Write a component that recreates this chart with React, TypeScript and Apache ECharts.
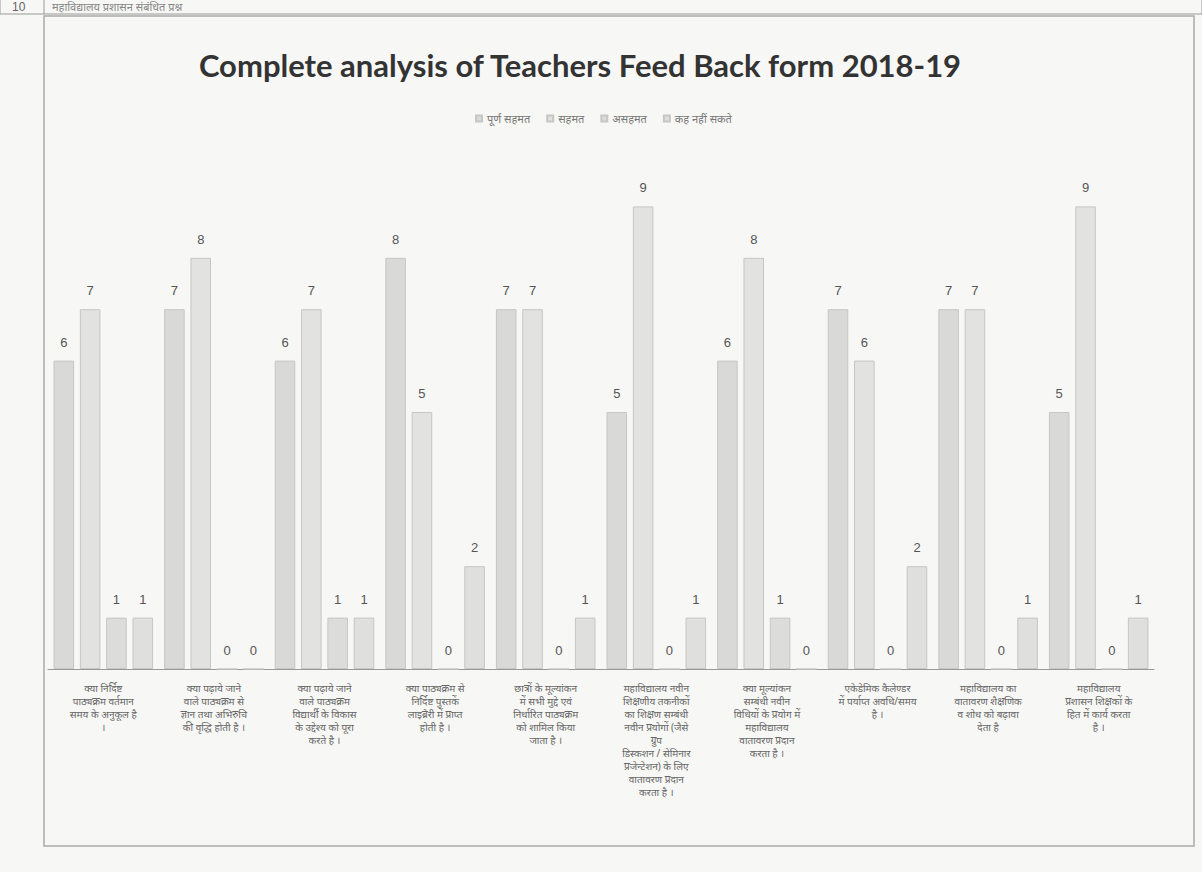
import React, { useEffect, useRef } from "react";
import * as echarts from "echarts";

const categories = [
  "क्या निर्दिष्ट\nपाठ्यक्रम वर्तमान\nसमय के अनुकूल है\n।",
  "क्या पढ़ाये जाने\nवाले पाठ्यक्रम से\nज्ञान तथा अभिरुचि\nकी वृद्धि होती है ।",
  "क्या पढ़ाये जाने\nवाले पाठ्यक्रम\nविद्यार्थी के विकास\nके उद्देश्य को पूरा\nकरते है ।",
  "क्या पाठ्यक्रम से\nनिर्दिष्ट पुस्तकें\nलाइब्रेरी में प्राप्त\nहोती है ।",
  "छात्रों के मूल्यांकन\nमें सभी मुद्दे एवं\nनिर्धारित पाठ्यक्रम\nको शामिल किया\nजाता है ।",
  "महाविद्यालय नवीन\nशिक्षणीय तकनीकों\nका शिक्षण सम्बंधी\nनवीन प्रयोगों (जैसे\nग्रुप\nडिस्कशन / सेमिनार\nप्रजेन्टेशन) के लिए\nवातावरण प्रदान\nकरता है ।",
  "क्या मूल्यांकन\nसम्बंधी नवीन\nविधियों के प्रयोग में\nमहाविद्यालय\nवातावरण प्रदान\nकरता है ।",
  "एकेडेमिक कैलेण्डर\nमें पर्याप्त अवधि/समय\nहै ।",
  "महाविद्यालय का\nवातावरण शैक्षणिक\nव शोध को बढ़ावा\nदेता है",
  "महाविद्यालय\nप्रशासन शिक्षकों के\nहित में कार्य करता\nहै ।",
];

const seriesNames = ["पूर्ण सहमत", "सहमत", "असहमत", "कह नहीं सकते"];
const fullyAgree = [6, 7, 6, 8, 7, 5, 6, 7, 7, 5];
const agree = [7, 8, 7, 5, 7, 9, 8, 6, 7, 9];
const disagree = [1, 0, 1, 0, 0, 0, 1, 0, 0, 0];
const cantSay = [1, 0, 1, 2, 1, 1, 0, 2, 1, 1];

const values = [fullyAgree, agree, disagree, cantSay];
const colors = ["#d9d9d7", "#e2e2e0", "#dcdcda", "#dfdfdd"];

export default function App() {
  const ref = useRef<HTMLDivElement>(null);
  useEffect(() => {
    if (!ref.current) return;
    const chart = echarts.init(ref.current, undefined, { renderer: "svg" });
    chart.setOption({
      animation: false,
      backgroundColor: "#f7f7f5",
      title: {
        text: "Complete analysis of Teachers Feed Back form 2018-19",
        left: 575,
        top: 44,
        textAlign: "center",
        textStyle: {
          fontFamily: "Lato",
          fontWeight: "bold",
          fontSize: 31,
          color: "#333",
        },
      },
      legend: {
        top: 108,
        left: 470,
        itemWidth: 6,
        itemHeight: 6,
        itemGap: 16,
        icon: "rect",
        data: seriesNames,
        textStyle: { fontSize: 11, color: "#777", fontFamily: "Noto Sans" },
      },
      grid: {
        left: 48,
        right: 48,
        top: 155,
        bottom: 203,
        containLabel: false,
        outerBoundsMode: "none",
      },
      xAxis: {
        type: "category",
        data: categories,
        axisTick: { show: false },
        axisLine: { lineStyle: { color: "#999", width: 1 } },
        axisLabel: {
          interval: 0,
          fontSize: 10,
          lineHeight: 13,
          color: "#666",
          margin: 12,
          fontFamily: "Noto Sans",
          hideOverlap: false,
        },
      },
      yAxis: {
        type: "value",
        min: 0,
        max: 10,
        show: false,
        splitLine: { show: false },
      },
      series: seriesNames.map((name, i) => ({
        name,
        type: "bar",
        data: values[i],
        barGap: "28%",
        barCategoryGap: "10%",
        itemStyle: { color: colors[i], borderColor: "#c6c6c4", borderWidth: 1 },
        label: {
          show: true,
          position: "top",
          distance: 12,
          fontSize: 13,
          color: "#555",
        },
      })),
      graphic: [
        {
          type: "rect",
          shape: { x: 44, y: 16, width: 1150, height: 830 },
          style: { fill: "none", stroke: "#aaa", lineWidth: 1.5 },
        },
        {
          type: "rect",
          shape: { x: 0, y: -2, width: 1202, height: 16 },
          style: { fill: "none", stroke: "#999", lineWidth: 1 },
        },
        {
          type: "line",
          shape: { x1: 44, y1: -2, x2: 44, y2: 14 },
          style: { stroke: "#999", lineWidth: 1 },
        },
        {
          type: "text",
          x: 12,
          y: 1,
          style: { text: "10", fontSize: 12, fill: "#666" },
        },
        {
          type: "text",
          x: 52,
          y: 1,
          style: { text: "महाविद्यालय प्रशासन संबंधित प्रश्न", fontSize: 11, fill: "#888", fontFamily: "Noto Sans" },
        },
      ],
    });
    return () => chart.dispose();
  }, []);
  return (
    <div
      ref={ref}
      style={{ position: "fixed", left: 0, top: 0, width: 1202, height: 872 }}
    />
  );
}
